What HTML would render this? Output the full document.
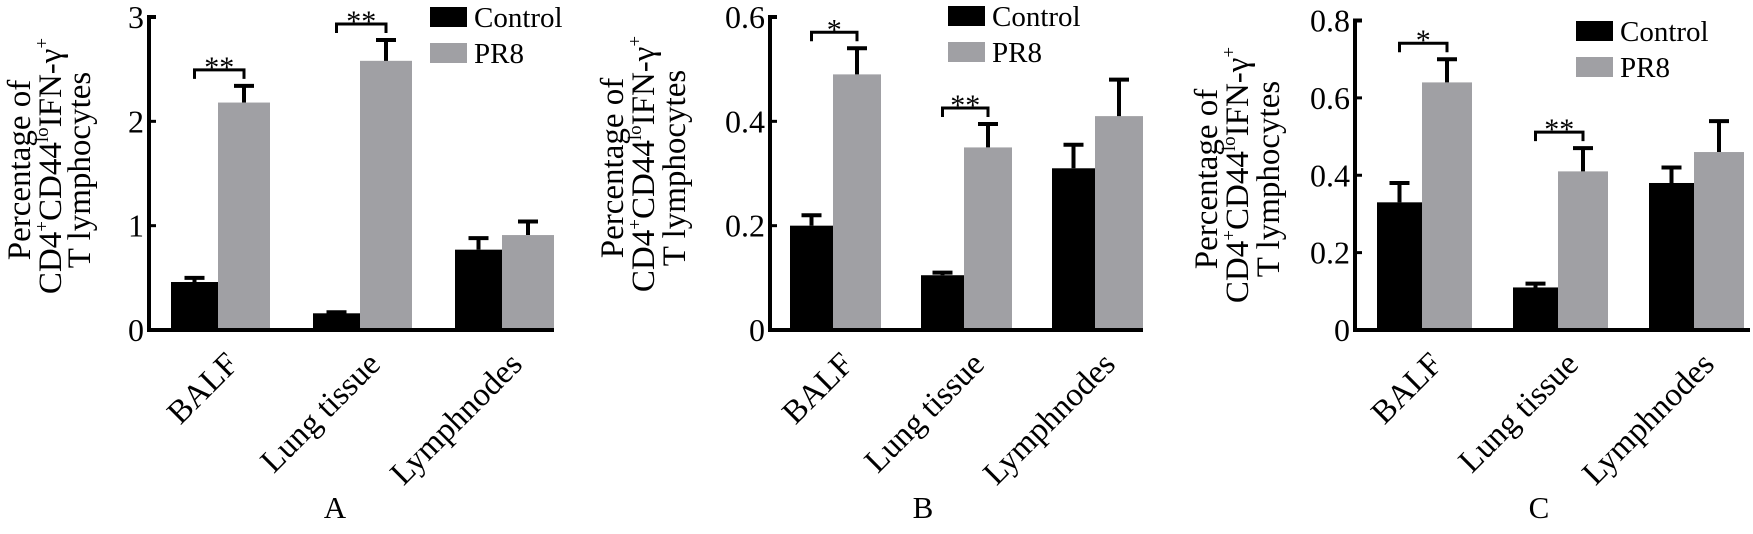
<!DOCTYPE html>
<html><head><meta charset="utf-8"><style>
html,body{margin:0;padding:0;background:#fff;}
svg{display:block;}
svg text{font-family:"Liberation Serif","DejaVu Serif",serif;fill:#000;}
</style></head><body>
<svg id="chart" width="1753" height="534" viewBox="0 0 1753 534" xmlns="http://www.w3.org/2000/svg" font-family="Liberation Serif, DejaVu Serif, serif"></svg>
<script>
const categories = ["BALF", "Lung tissue", "Lymphnodes"];
const seriesNames = ["Control", "PR8"];
// Panel A
const aControl = [0.46, 0.16, 0.77];
const aControlErr = [0.04, 0.01, 0.11];
const aPR8 = [2.18, 2.58, 0.91];
const aPR8Err = [0.16, 0.20, 0.13];
const aTicks = ["0", "1", "2", "3"];
const aTickValues = [0, 1, 2, 3];
const aSig = ["**", "**", ""];
// Panel B
const bControl = [0.20, 0.105, 0.31];
const bControlErr = [0.02, 0.005, 0.045];
const bPR8 = [0.49, 0.35, 0.41];
const bPR8Err = [0.05, 0.045, 0.07];
const bTicks = ["0", "0.2", "0.4", "0.6"];
const bTickValues = [0, 0.2, 0.4, 0.6];
const bSig = ["*", "**", ""];
// Panel C
const cControl = [0.33, 0.11, 0.38];
const cControlErr = [0.05, 0.01, 0.04];
const cPR8 = [0.64, 0.41, 0.46];
const cPR8Err = [0.06, 0.06, 0.08];
const cTicks = ["0", "0.2", "0.4", "0.6", "0.8"];
const cTickValues = [0, 0.2, 0.4, 0.6, 0.8];
const cSig = ["*", "**", ""];

const NS = "http://www.w3.org/2000/svg";
const svg = document.getElementById("chart");
const FF = '"Liberation Serif", "DejaVu Serif", serif';
function mk(tag, attrs, parent) {
  const e = document.createElementNS(NS, tag);
  for (const k in attrs) e.setAttribute(k, attrs[k]);
  if (tag === "text") e.style.fontFamily = FF;
  (parent || svg).appendChild(e);
  return e;
}

function panel(cfg, ctrl, ctrlErr, pr8, pr8Err, ticks, tickVals, sig) {
  const g = mk("g", {});
  
  
  const y0 = 330, top = cfg.top, maxV = tickVals[tickVals.length - 1];
  const ys = v => y0 - (v / maxV) * (y0 - top);
  const gx = i => cfg.gx0 + i * cfg.gstep;
  for (let i = 0; i < categories.length; i++) {
    const x = gx(i);
    const b1 = mk("rect", {x: x, y: ys(ctrl[i]), width: cfg.cw, height: y0 - ys(ctrl[i]), fill: "#000"}, g);
    
    
    const b2 = mk("rect", {x: x + cfg.cw, y: ys(pr8[i]), width: cfg.pw, height: y0 - ys(pr8[i]), fill: "#a0a0a4"}, g);
    
    
    const pairs = [[x + cfg.cw / 2, ctrl[i], ctrlErr[i]], [x + cfg.cw + cfg.pw / 2, pr8[i], pr8Err[i]]];
    pairs.forEach((p) => {
      const eb = mk("path", {d: `M${p[0]},${ys(p[1])} V${ys(p[1] + p[2])} M${p[0] - 10},${ys(p[1] + p[2])} H${p[0] + 10}`, stroke: "#000", "stroke-width": 4, fill: "none"}, g);
      
      
    });
    if (sig[i]) {
      const yt = ys(pr8[i] + pr8Err[i]) - 16;
      const x1 = x + cfg.cw / 2, x2 = x + cfg.cw + cfg.pw / 2;
      const br = mk("path", {d: `M${x1},${yt + 9} V${yt} H${x2} V${yt + 9}`, stroke: "#000", "stroke-width": 3, fill: "none"}, g);
      
      
      const st = mk("text", {x: (x1 + x2) / 2, y: yt + 7, "text-anchor": "middle", "font-size": 30}, g);
      st.textContent = sig[i];
      
      
    }
    const cx = x + cfg.cw + 22, cy = 366;
    const t = mk("text", {x: cx, y: cy, "text-anchor": "end", "font-size": 33, transform: `rotate(-45 ${cx} ${cy})`}, g);
    t.textContent = categories[i];
    
    
  }
  const ax = mk("path", {d: `M${cfg.ax + 7},${top} H${cfg.ax} V${y0} H${cfg.axEnd}`, stroke: "#000", "stroke-width": 4, fill: "none"}, g);
  
  
  tickVals.forEach((v, k) => {
    const tk = mk("line", {x1: cfg.ax, x2: cfg.ax + 7, y1: ys(v), y2: ys(v), stroke: "#000", "stroke-width": 3}, g);
    
    
    const tl = mk("text", {x: cfg.ax - 5, y: ys(v) + 11, "text-anchor": "end", "font-size": 32, fill: "#222"}, g);
    tl.textContent = ticks[k];
    
    
  });
  const tc = cfg.titleY;
  const tx = cfg.titleX;
  const t1 = mk("text", {x: tx[0], y: tc, "text-anchor": "middle", "font-size": 33, transform: `rotate(-90 ${tx[0]} ${tc})`}, g);
  t1.textContent = "Percentage of";
  
  
  const t2 = mk("text", {x: tx[1], y: tc - 4, "text-anchor": "middle", "font-size": 33, transform: `rotate(-90 ${tx[1]} ${tc - 4})`}, g);
  t2.innerHTML = 'CD4<tspan dy="-13" font-size="19">+</tspan><tspan dy="13">CD44</tspan><tspan dy="-13" font-size="19">lo</tspan><tspan dy="13">IFN-γ</tspan><tspan dy="-13" font-size="19">+</tspan>';
  
  
  const t3 = mk("text", {x: tx[2], y: tc, "text-anchor": "middle", "font-size": 33, transform: `rotate(-90 ${tx[2]} ${tc})`}, g);
  t3.textContent = "T lymphocytes";
  
  
  const colors = ["#000", "#a0a0a4"];
  seriesNames.forEach((n, k) => {
    const ly = cfg.legY + k * 36;
    const r = mk("rect", {x: cfg.legX, y: ly, width: 37, height: 20, fill: colors[k]}, g);
    
    
    const lt = mk("text", {x: cfg.legX + 44, y: ly + 20, "font-size": 29}, g);
    lt.textContent = n;
    
    
  });
  const pl = mk("text", {x: cfg.letterX, y: 518, "text-anchor": "middle", "font-size": 31}, g);
  pl.textContent = cfg.letter;
  
  
}

panel({letter: "A", top: 17, ax: 149, axEnd: 554, gx0: 171, gstep: 142, cw: 47, pw: 52,
  titleX: [30, 61, 90], titleY: 170, legX: 430, legY: 7, letterX: 335},
  aControl, aControlErr, aPR8, aPR8Err, aTicks, aTickValues, aSig);
panel({letter: "B", top: 17, ax: 770, axEnd: 1143, gx0: 790, gstep: 131, cw: 43, pw: 48,
  titleX: [623, 654, 685], titleY: 168, legX: 948, legY: 6, letterX: 923},
  bControl, bControlErr, bPR8, bPR8Err, bTicks, bTickValues, bSig);
panel({letter: "C", top: 20.5, ax: 1355, axEnd: 1750, gx0: 1377, gstep: 136, cw: 45, pw: 50,
  titleX: [1217, 1248, 1279], titleY: 179, legX: 1576, legY: 21, letterX: 1539},
  cControl, cControlErr, cPR8, cPR8Err, cTicks, cTickValues, cSig);
</script>
</body></html>
